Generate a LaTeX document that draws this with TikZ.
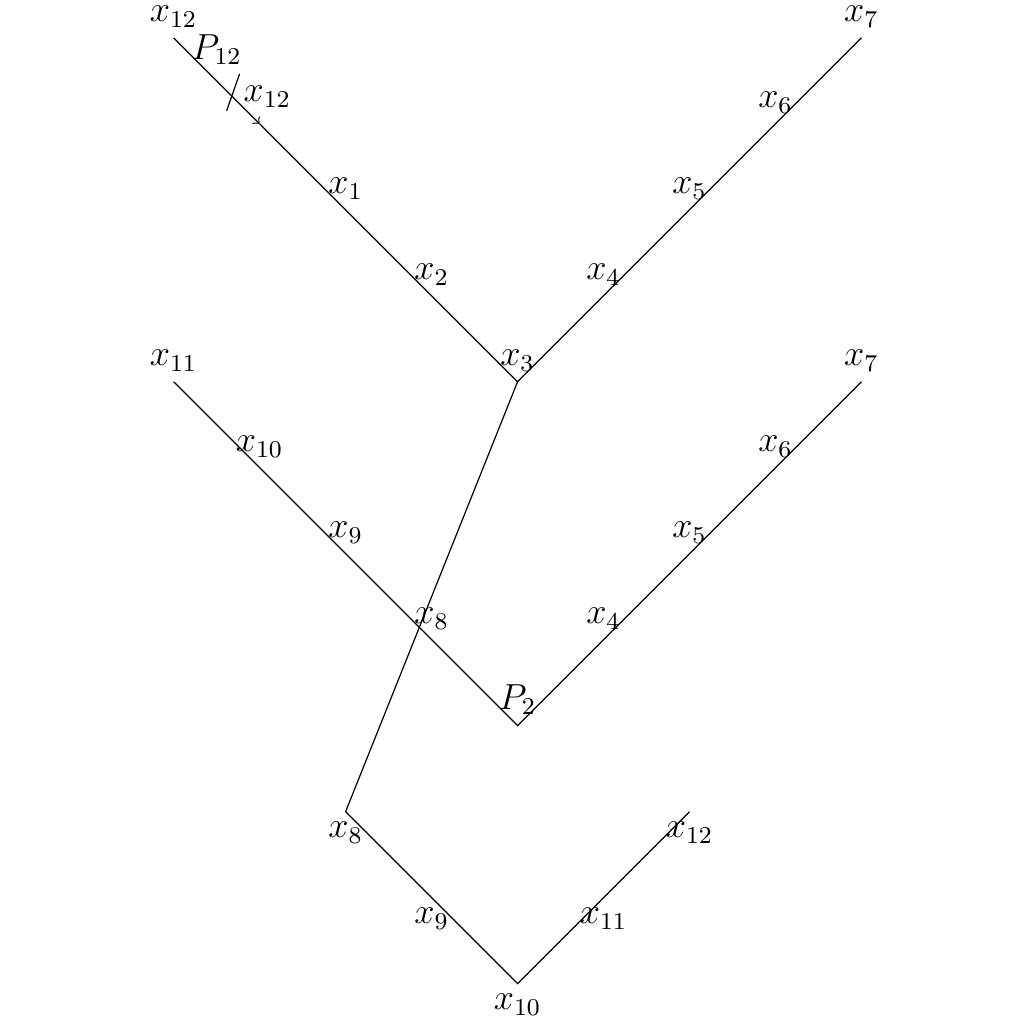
\documentclass[tikz,border=0pt]{standalone}
\begin{document}
\begin{tikzpicture}[lbl/.style={font=\large}]
    \useasboundingbox (-6.02,-7.47) rectangle (5.88,4.44);
    % upper branch
    \coordinate (a12) at (-4, 4);
    \coordinate (a3)  at ( 0, 0);
    \coordinate (a7)  at ( 4, 4);
    \coordinate (am)  at (-3, 3);
    \draw[->] (a12) -- (am);
    \draw (am) -- (a3) -- (a7);
    \draw (-3.233, 3.581) -- (-3.384, 3.151);
    \node[lbl,above] (ta12) at (a12) {$x_{12}$};
    \node[lbl,above] (tp12) at (-3.5, 3.56) {$P_{12}$};
    \node[lbl,above] (tb12) at (-2.91, 3.07) {$x_{12}$};
    \node[lbl,above] (ta1)  at (-2, 2) {$x_1$};
    \node[lbl,above] (ta2)  at (-1, 1) {$x_2$};
    \node[lbl,above] (ta3)  at (a3) {$x_3$};
    \node[lbl,above] (ta4)  at ( 1, 1) {$x_4$};
    \node[lbl,above] (ta5)  at ( 2, 2) {$x_5$};
    \node[lbl,above] (ta6)  at ( 3, 3) {$x_6$};
    \node[lbl,above] (ta7)  at (a7) {$x_7$};
    % middle branch
    \coordinate (b11) at (-4, 0);
    \coordinate (bp2) at ( 0,-4);
    \coordinate (b7)  at ( 4, 0);
    \draw (b11) -- (bp2) -- (b7);
    \node[lbl,above] (tb11) at (b11) {$x_{11}$};
    \node[lbl,above] (tb10) at (-3,-1) {$x_{10}$};
    \node[lbl,above] (tb9)  at (-2,-2) {$x_9$};
    \node[lbl,above] (tb8)  at (-1,-3) {$x_8$};
    \node[lbl,above] (tbp2) at (bp2) {$P_2$};
    \node[lbl,above] (tb4)  at ( 1,-3) {$x_4$};
    \node[lbl,above] (tb5)  at ( 2,-2) {$x_5$};
    \node[lbl,above] (tb6)  at ( 3,-1) {$x_6$};
    \node[lbl,above] (tb7)  at (b7) {$x_7$};
    % lower branch
    \coordinate (c8)  at (-2,-5);
    \coordinate (c10) at ( 0,-7);
    \coordinate (c12) at ( 2,-5);
    \draw (a3) -- (c8) -- (c10) -- (c12);
    \node[lbl,below] (tc8)  at (c8) {$x_8$};
    \node[lbl,below] (tc9)  at (-1,-6) {$x_9$};
    \node[lbl,below] (tc10) at (c10) {$x_{10}$};
    \node[lbl,below] (tc11) at ( 1,-6) {$x_{11}$};
    \node[lbl,below] (tc12) at (c12) {$x_{12}$};
\end{tikzpicture}
\end{document}
